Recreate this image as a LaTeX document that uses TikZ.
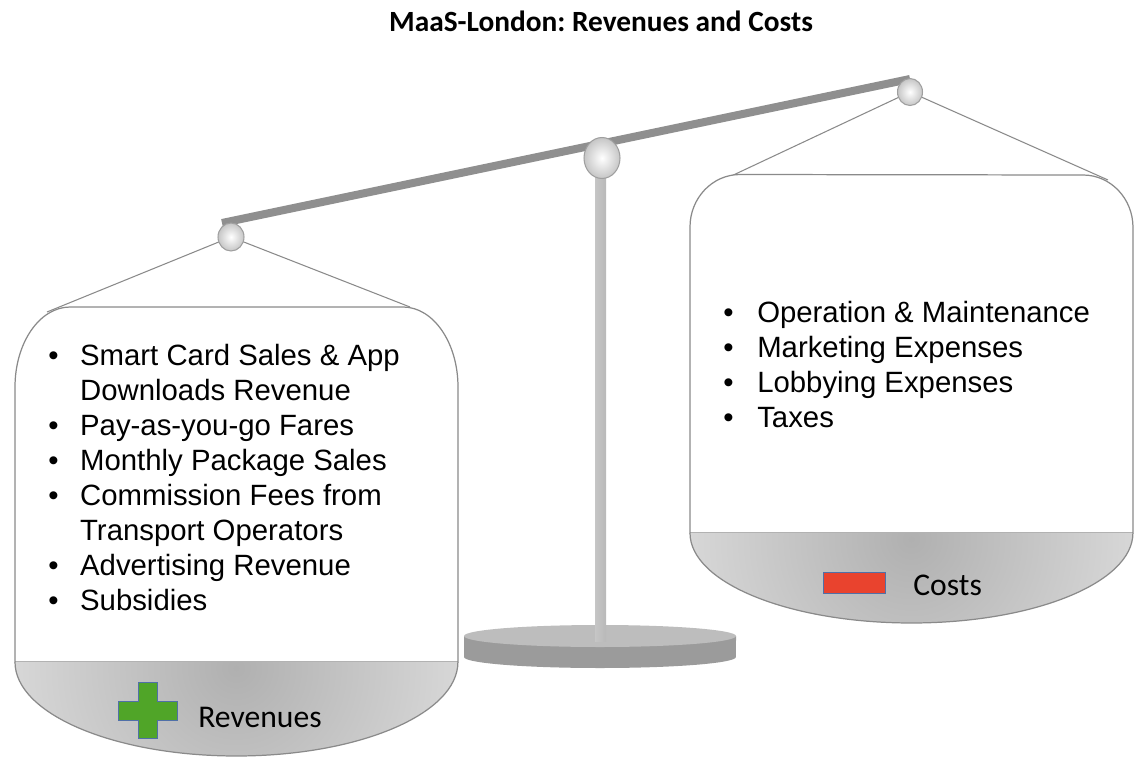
\documentclass[tikz,border=0pt]{standalone}
\usepackage{fontspec}
\setmainfont{Liberation Sans}
\newfontfamily\calibri{Carlito}
\usetikzlibrary{shapes.geometric}
\frenchspacing

\definecolor{beamgray}{RGB}{143,143,143}
\definecolor{rimgray}{RGB}{138,138,138}
\definecolor{plusgreen}{RGB}{80,165,40}
\definecolor{minusred}{RGB}{233,67,46}
\definecolor{edgeblue}{RGB}{80,112,168}

\begin{document}
\begin{tikzpicture}[x=0.02cm,y=-0.02cm,
        pan/.style={draw=rimgray,line width=0.7pt,fill=white},
        bowl/.style={draw=rimgray,line width=0.7pt},
        string/.style={draw=rimgray,line width=0.6pt},
        ball/.style={ellipse,draw=gray!75,line width=0.6pt,inner color=white,outer color=gray!45,inner sep=0pt},
        list node/.style={anchor=base west,inner sep=0pt,font=\fontsize{16.7}{20}\selectfont},
        pan label/.style={anchor=base west,inner sep=0pt,font=\calibri\fontsize{18}{20}\selectfont}]

    \useasboundingbox (0,0) rectangle (1135,757);

    \node[anchor=base,inner sep=0pt,font=\calibri\bfseries\fontsize{16.7}{20}\selectfont] (title) at (601,32)
        {MaaS-London: Revenues and Costs};

    % stand
    \fill[gray!88!black!70] (464,636) -- (464,657) arc[start angle=180,end angle=360,x radius=2.72cm,y radius=0.22cm]
        -- (736,636) -- cycle;
    \fill[gray!52] (600,636) ellipse [x radius=2.72cm,y radius=0.22cm];
    \shade[left color=gray!45,middle color=white,right color=gray!55] (595,170) rectangle (606,641);

    % beam and hooks
    \coordinate (beamL) at (222,223);
    \coordinate (beamR) at (910,79);
    \coordinate (lhook) at (231,237);
    \coordinate (rhook) at (910,92);
    \draw[beamgray,line width=0.16cm] (beamL) -- (beamR);
    \node[ball,minimum width=0.72cm,minimum height=0.82cm] (pivot) at (602,158) {};

    \coordinate (lpanL) at (47,312);
    \coordinate (lpanR) at (410,307);
    \coordinate (rpanL) at (727,178);
    \coordinate (rpanR) at (1108,180);
    \draw[string] (lpanL) -- (lhook) -- (lpanR);
    \draw[string] (rpanL) -- (rhook) -- (rpanR);

    % left pan
    \draw[pan] (15,662) -- (15,387) arc[start angle=180,end angle=90,x radius=1.1cm,y radius=1.6cm]
        -- (403,307) arc[start angle=90,end angle=0,x radius=1.1cm,y radius=1.6cm] -- (458,662) -- cycle;
    \begin{scope}
        \clip (15,662) arc[start angle=180,end angle=360,x radius=4.43cm,y radius=1.88cm] -- cycle;
        \shade[inner color=gray!62,outer color=gray!4] (236,668) circle (8.4cm);
    \end{scope}
    \draw[bowl] (15,662) arc[start angle=180,end angle=360,x radius=4.43cm,y radius=1.88cm];

    % right pan
    \draw[pan] (690,533) -- (690,227) arc[start angle=180,end angle=90,x radius=1.0cm,y radius=1.05cm]
        -- (1083,175) arc[start angle=90,end angle=0,x radius=1.0cm,y radius=1.05cm] -- (1133,533) -- cycle;
    \begin{scope}
        \clip (690,533) arc[start angle=180,end angle=360,x radius=4.43cm,y radius=1.8cm] -- cycle;
        \shade[inner color=gray!62,outer color=gray!4] (911,539) circle (8.4cm);
    \end{scope}
    \draw[bowl] (690,533) arc[start angle=180,end angle=360,x radius=4.43cm,y radius=1.8cm];

    \node[ball,minimum width=0.52cm,minimum height=0.56cm] (lball) at (lhook) {};
    \node[ball,minimum width=0.5cm,minimum height=0.54cm] (rball) at (rhook) {};

    \node[list node] (revlist) at (48,365) {\begin{tabular}[t]{@{}p{18.1pt}@{}l@{}}
        • & Smart Card Sales \& App\\
          & Downloads Revenue\\
        • & Pay-as-you-go Fares\\
        • & Monthly Package Sales\\
        • & Commission Fees from\\
          & Transport Operators\\
        • & Advertising Revenue\\
        • & Subsidies
    \end{tabular}};
    \node[list node] (costlist) at (723,322) {\begin{tabular}[t]{@{}p{19.3pt}@{}l@{}}
        • & Operation \& Maintenance\\
        • & Marketing Expenses\\
        • & Lobbying Expenses\\
        • & Taxes
    \end{tabular}};

    % plus and minus marks
    \draw[edgeblue,line width=0.5pt,fill=plusgreen] (138,682) -- (157,682) -- (157,701) -- (177,701) -- (177,720)
        -- (157,720) -- (157,738) -- (138,738) -- (138,720) -- (118,720) -- (118,701) -- (138,701) -- cycle;
    \draw[edgeblue,line width=0.5pt,fill=minusred] (823,572) rectangle (885,593);

    \node[pan label] (revenues) at (198,727) {Revenues};
    \node[pan label] (costs) at (913,595) {Costs};
\end{tikzpicture}
\end{document}
